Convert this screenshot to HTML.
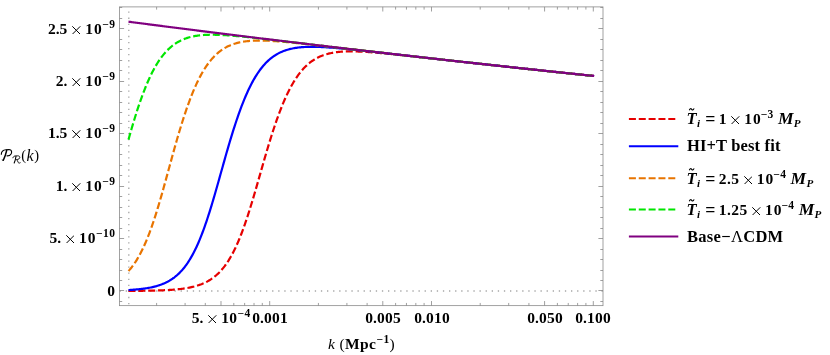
<!DOCTYPE html><html><head><meta charset="utf-8"><title>chart</title><style>
html,body{margin:0;padding:0;background:#fff;}
#c{position:relative;width:830px;height:355px;overflow:hidden;background:#fff;font-family:"Liberation Serif",serif;color:#000;}
.t{position:absolute;will-change:transform;white-space:nowrap;font-weight:bold;font-size:15.5px;line-height:16px;height:16px;}
.t sup{font-size:11.5px;line-height:0;position:relative;top:-6.2px;vertical-align:baseline;margin-left:0.4px;letter-spacing:0.5px;margin-right:-0.5px}
.t sub{font-size:10.5px;line-height:0;position:relative;top:2.6px;vertical-align:baseline;}
.yl{text-align:right;width:110px;left:5.0px;}
.xl{text-align:center;width:90px;}
.i{font-style:italic;}
.n{font-weight:normal;}
.ten{letter-spacing:1px;}
.x{display:inline-block;width:8.6px;height:8.6px;margin:0 4.6px 0 4.8px;vertical-align:baseline;position:relative;top:0.3px}
</style></head><body><div id="c">
<svg width="830" height="355" viewBox="0 0 830 355" style="position:absolute;left:0;top:0">
<g stroke="#a6a6a6" stroke-width="1.3" fill="none">
<line x1="119.60" y1="291.0" x2="603.00" y2="291.0" stroke-dasharray="1.3 4.8"/>
<line x1="128.8" y1="11.55" x2="128.8" y2="305.65" stroke-dasharray="1.3 4.77"/>
</g>
<path d="M128.50 290.91 L129.50 290.90 L130.50 290.89 L131.50 290.89 L132.50 290.88 L133.50 290.87 L134.50 290.87 L135.50 290.86 L136.50 290.85 L137.50 290.84 L138.50 290.83 L139.50 290.82 L140.50 290.81 L141.50 290.80 L142.50 290.78 L143.50 290.77 L144.50 290.76 L145.50 290.74 L146.50 290.73 L147.50 290.71 L148.50 290.69 L149.50 290.68 L150.50 290.66 L151.50 290.63 L152.50 290.61 L153.50 290.59 L154.50 290.56 L155.50 290.54 L156.50 290.51 L157.50 290.48 L158.50 290.45 L159.50 290.41 L160.50 290.38 L161.50 290.34 L162.50 290.30 L163.50 290.26 L164.50 290.21 L165.50 290.17 L166.50 290.11 L167.50 290.06 L168.50 290.00 L169.50 289.94 L170.50 289.88 L171.50 289.81 L172.50 289.74 L173.50 289.66 L174.50 289.58 L175.50 289.50 L176.50 289.41 L177.50 289.31 L178.50 289.21 L179.50 289.10 L180.50 288.99 L181.50 288.86 L182.50 288.73 L183.50 288.60 L184.50 288.45 L185.50 288.30 L186.50 288.14 L187.50 287.97 L188.50 287.78 L189.50 287.59 L190.50 287.39 L191.50 287.17 L192.50 286.94 L193.50 286.70 L194.50 286.44 L195.50 286.17 L196.50 285.88 L197.50 285.57 L198.50 285.25 L199.50 284.91 L200.50 284.55 L201.50 284.17 L202.50 283.76 L203.50 283.33 L204.50 282.88 L205.50 282.41 L206.50 281.90 L207.50 281.37 L208.50 280.81 L209.50 280.21 L210.50 279.58 L211.50 278.92 L212.50 278.22 L213.50 277.49 L214.50 276.71 L215.50 275.89 L216.50 275.03 L217.50 274.13 L218.50 273.17 L219.50 272.17 L220.50 271.11 L221.50 270.00 L222.50 268.84 L223.50 267.61 L224.50 266.33 L225.50 264.98 L226.50 263.57 L227.50 262.09 L228.50 260.55 L229.50 258.93 L230.50 257.24 L231.50 255.48 L232.50 253.64 L233.50 251.72 L234.50 249.73 L235.50 247.65 L236.50 245.50 L237.50 243.26 L238.50 240.94 L239.50 238.54 L240.50 236.06 L241.50 233.50 L242.50 230.86 L243.50 228.13 L244.50 225.33 L245.50 222.46 L246.50 219.51 L247.50 216.49 L248.50 213.40 L249.50 210.25 L250.50 207.04 L251.50 203.78 L252.50 200.47 L253.50 197.11 L254.50 193.71 L255.50 190.29 L256.50 186.83 L257.50 183.35 L258.50 179.86 L259.50 176.36 L260.50 172.85 L261.50 169.35 L262.50 165.86 L263.50 162.38 L264.50 158.93 L265.50 155.50 L266.50 152.10 L267.50 148.73 L268.50 145.41 L269.50 142.13 L270.50 138.90 L271.50 135.71 L272.50 132.59 L273.50 129.51 L274.50 126.50 L275.50 123.55 L276.50 120.67 L277.50 117.85 L278.50 115.09 L279.50 112.41 L280.50 109.79 L281.50 107.24 L282.50 104.77 L283.50 102.37 L284.50 100.03 L285.50 97.77 L286.50 95.59 L287.50 93.47 L288.50 91.42 L289.50 89.45 L290.50 87.54 L291.50 85.70 L292.50 83.93 L293.50 82.23 L294.50 80.60 L295.50 79.02 L296.50 77.52 L297.50 76.07 L298.50 74.68 L299.50 73.36 L300.50 72.09 L301.50 70.87 L302.50 69.71 L303.50 68.61 L304.50 67.55 L305.50 66.55 L306.50 65.59 L307.50 64.68 L308.50 63.81 L309.50 62.99 L310.50 62.21 L311.50 61.46 L312.50 60.76 L313.50 60.10 L314.50 59.47 L315.50 58.87 L316.50 58.31 L317.50 57.78 L318.50 57.28 L319.50 56.81 L320.50 56.36 L321.50 55.94 L322.50 55.55 L323.50 55.19 L324.50 54.84 L325.50 54.52 L326.50 54.22 L327.50 53.94 L328.50 53.68 L329.50 53.44 L330.50 53.21 L331.50 53.00 L332.50 52.81 L333.50 52.63 L334.50 52.47 L335.50 52.32 L336.50 52.19 L337.50 52.07 L338.50 51.96 L339.50 51.86 L340.50 51.77 L341.50 51.69 L342.50 51.62 L343.50 51.56 L344.50 51.51 L345.50 51.47 L346.50 51.44 L347.50 51.41 L348.50 51.39 L349.50 51.38 L350.50 51.37 L351.50 51.37 L352.50 51.38 L353.50 51.39 L354.50 51.41 L355.50 51.43 L356.50 51.46 L357.50 51.49 L358.50 51.53 L359.50 51.57 L360.50 51.61 L361.50 51.66 L362.50 51.71 L363.50 51.76 L364.50 51.82 L365.50 51.88 L366.50 51.94 L367.50 52.01 L368.50 52.08 L369.50 52.15 L370.50 52.22 L371.50 52.30 L372.50 52.37 L373.50 52.45 L374.50 52.53 L375.50 52.62 L376.50 52.70 L377.50 52.79 L378.50 52.87 L379.50 52.96 L380.50 53.05 L381.50 53.14 L382.50 53.24 L383.50 53.33 L384.50 53.43 L385.50 53.52 L386.50 53.62 L387.50 53.71 L388.50 53.81 L389.50 53.91 L390.50 54.01 L391.50 54.11 L392.50 54.21 L393.50 54.32 L394.50 54.42 L395.50 54.52 L396.50 54.63 L397.50 54.73 L398.50 54.83 L399.50 54.94 L400.50 55.04 L401.50 55.15 L402.50 55.26 L403.50 55.36 L404.50 55.47 L405.50 55.58 L406.50 55.68 L407.50 55.79 L408.50 55.90 L409.50 56.01 L410.50 56.12 L411.50 56.23 L412.50 56.33 L413.50 56.44 L414.50 56.55 L415.50 56.66 L416.50 56.77 L417.50 56.88 L418.50 56.99 L419.50 57.10 L420.50 57.21 L421.50 57.32 L422.50 57.43 L423.50 57.54 L424.50 57.65 L425.50 57.76 L426.50 57.87 L427.50 57.98 L428.50 58.10 L429.50 58.21 L430.50 58.32 L431.50 58.43 L432.50 58.54 L433.50 58.65 L434.50 58.76 L435.50 58.87 L436.50 58.98 L437.50 59.09 L438.50 59.20 L439.50 59.31 L440.50 59.43 L441.50 59.54 L442.50 59.65 L443.50 59.76 L444.50 59.87 L445.50 59.98 L446.50 60.09 L447.50 60.20 L448.50 60.31 L449.50 60.42 L450.50 60.53 L451.50 60.65 L452.50 60.76 L453.50 60.87 L454.50 60.98 L455.50 61.09 L456.50 61.20 L457.50 61.31 L458.50 61.42 L459.50 61.53 L460.50 61.64 L461.50 61.75 L462.50 61.86 L463.50 61.97 L464.50 62.08 L465.50 62.19 L466.50 62.30 L467.50 62.41 L468.50 62.52 L469.50 62.63 L470.50 62.74 L471.50 62.85 L472.50 62.97 L473.50 63.08 L474.50 63.19 L475.50 63.30 L476.50 63.40 L477.50 63.51 L478.50 63.62 L479.50 63.73 L480.50 63.84 L481.50 63.95 L482.50 64.06 L483.50 64.17 L484.50 64.28 L485.50 64.39 L486.50 64.50 L487.50 64.61 L488.50 64.72 L489.50 64.83 L490.50 64.94 L491.50 65.05 L492.50 65.16 L493.50 65.27 L494.50 65.38 L495.50 65.48 L496.50 65.59 L497.50 65.70 L498.50 65.81 L499.50 65.92 L500.50 66.03 L501.50 66.14 L502.50 66.25 L503.50 66.35 L504.50 66.46 L505.50 66.57 L506.50 66.68 L507.50 66.79 L508.50 66.90 L509.50 67.00 L510.50 67.11 L511.50 67.22 L512.50 67.33 L513.50 67.44 L514.50 67.55 L515.50 67.65 L516.50 67.76 L517.50 67.87 L518.50 67.98 L519.50 68.08 L520.50 68.19 L521.50 68.30 L522.50 68.41 L523.50 68.52 L524.50 68.62 L525.50 68.73 L526.50 68.84 L527.50 68.95 L528.50 69.05 L529.50 69.16 L530.50 69.27 L531.50 69.37 L532.50 69.48 L533.50 69.59 L534.50 69.70 L535.50 69.80 L536.50 69.91 L537.50 70.02 L538.50 70.12 L539.50 70.23 L540.50 70.34 L541.50 70.44 L542.50 70.55 L543.50 70.66 L544.50 70.76 L545.50 70.87 L546.50 70.98 L547.50 71.08 L548.50 71.19 L549.50 71.29 L550.50 71.40 L551.50 71.51 L552.50 71.61 L553.50 71.72 L554.50 71.82 L555.50 71.93 L556.50 72.04 L557.50 72.14 L558.50 72.25 L559.50 72.35 L560.50 72.46 L561.50 72.56 L562.50 72.67 L563.50 72.78 L564.50 72.88 L565.50 72.99 L566.50 73.09 L567.50 73.20 L568.50 73.30 L569.50 73.41 L570.50 73.51 L571.50 73.62 L572.50 73.72 L573.50 73.83 L574.50 73.93 L575.50 74.04 L576.50 74.14 L577.50 74.25 L578.50 74.35 L579.50 74.46 L580.50 74.56 L581.50 74.67 L582.50 74.77 L583.50 74.88 L584.50 74.98 L585.50 75.08 L586.50 75.19 L587.50 75.29 L588.50 75.40 L589.50 75.50 L590.50 75.61 L591.50 75.71 L592.50 75.81 L593.50 75.92 L594.10 75.98" fill="none" stroke="#e60000" stroke-width="2.2" stroke-dasharray="7 2.85" stroke-linejoin="round"/>
<path d="M128.50 290.05 L129.50 289.99 L130.50 289.93 L131.50 289.86 L132.50 289.79 L133.50 289.72 L134.50 289.64 L135.50 289.56 L136.50 289.47 L137.50 289.38 L138.50 289.28 L139.50 289.18 L140.50 289.07 L141.50 288.95 L142.50 288.83 L143.50 288.70 L144.50 288.56 L145.50 288.41 L146.50 288.26 L147.50 288.09 L148.50 287.91 L149.50 287.73 L150.50 287.53 L151.50 287.33 L152.50 287.10 L153.50 286.87 L154.50 286.62 L155.50 286.36 L156.50 286.09 L157.50 285.79 L158.50 285.48 L159.50 285.15 L160.50 284.81 L161.50 284.44 L162.50 284.05 L163.50 283.64 L164.50 283.21 L165.50 282.75 L166.50 282.26 L167.50 281.75 L168.50 281.21 L169.50 280.64 L170.50 280.03 L171.50 279.39 L172.50 278.72 L173.50 278.01 L174.50 277.26 L175.50 276.47 L176.50 275.64 L177.50 274.77 L178.50 273.84 L179.50 272.87 L180.50 271.85 L181.50 270.78 L182.50 269.65 L183.50 268.46 L184.50 267.22 L185.50 265.91 L186.50 264.54 L187.50 263.11 L188.50 261.60 L189.50 260.03 L190.50 258.39 L191.50 256.67 L192.50 254.88 L193.50 253.01 L194.50 251.06 L195.50 249.03 L196.50 246.92 L197.50 244.72 L198.50 242.45 L199.50 240.09 L200.50 237.65 L201.50 235.12 L202.50 232.51 L203.50 229.82 L204.50 227.05 L205.50 224.20 L206.50 221.27 L207.50 218.27 L208.50 215.20 L209.50 212.05 L210.50 208.85 L211.50 205.58 L212.50 202.26 L213.50 198.88 L214.50 195.46 L215.50 192.00 L216.50 188.51 L217.50 184.99 L218.50 181.45 L219.50 177.89 L220.50 174.32 L221.50 170.75 L222.50 167.18 L223.50 163.62 L224.50 160.08 L225.50 156.56 L226.50 153.06 L227.50 149.59 L228.50 146.16 L229.50 142.78 L230.50 139.43 L231.50 136.13 L232.50 132.89 L233.50 129.70 L234.50 126.57 L235.50 123.50 L236.50 120.49 L237.50 117.54 L238.50 114.67 L239.50 111.86 L240.50 109.12 L241.50 106.45 L242.50 103.85 L243.50 101.33 L244.50 98.88 L245.50 96.50 L246.50 94.19 L247.50 91.96 L248.50 89.80 L249.50 87.71 L250.50 85.69 L251.50 83.75 L252.50 81.87 L253.50 80.07 L254.50 78.33 L255.50 76.66 L256.50 75.06 L257.50 73.52 L258.50 72.04 L259.50 70.62 L260.50 69.27 L261.50 67.97 L262.50 66.74 L263.50 65.55 L264.50 64.42 L265.50 63.34 L266.50 62.32 L267.50 61.34 L268.50 60.41 L269.50 59.53 L270.50 58.68 L271.50 57.89 L272.50 57.13 L273.50 56.41 L274.50 55.73 L275.50 55.09 L276.50 54.48 L277.50 53.91 L278.50 53.36 L279.50 52.85 L280.50 52.37 L281.50 51.92 L282.50 51.49 L283.50 51.09 L284.50 50.72 L285.50 50.36 L286.50 50.04 L287.50 49.73 L288.50 49.44 L289.50 49.18 L290.50 48.93 L291.50 48.70 L292.50 48.49 L293.50 48.29 L294.50 48.11 L295.50 47.94 L296.50 47.79 L297.50 47.65 L298.50 47.53 L299.50 47.41 L300.50 47.31 L301.50 47.22 L302.50 47.14 L303.50 47.07 L304.50 47.01 L305.50 46.96 L306.50 46.92 L307.50 46.88 L308.50 46.86 L309.50 46.84 L310.50 46.82 L311.50 46.82 L312.50 46.82 L313.50 46.82 L314.50 46.84 L315.50 46.85 L316.50 46.88 L317.50 46.90 L318.50 46.94 L319.50 46.97 L320.50 47.01 L321.50 47.06 L322.50 47.11 L323.50 47.16 L324.50 47.21 L325.50 47.27 L326.50 47.33 L327.50 47.40 L328.50 47.46 L329.50 47.53 L330.50 47.60 L331.50 47.68 L332.50 47.76 L333.50 47.83 L334.50 47.91 L335.50 48.00 L336.50 48.08 L337.50 48.17 L338.50 48.25 L339.50 48.34 L340.50 48.43 L341.50 48.53 L342.50 48.62 L343.50 48.71 L344.50 48.81 L345.50 48.90 L346.50 49.00 L347.50 49.10 L348.50 49.20 L349.50 49.30 L350.50 49.40 L351.50 49.50 L352.50 49.60 L353.50 49.71 L354.50 49.81 L355.50 49.92 L356.50 50.02 L357.50 50.13 L358.50 50.23 L359.50 50.34 L360.50 50.45 L361.50 50.55 L362.50 50.66 L363.50 50.77 L364.50 50.88 L365.50 50.99 L366.50 51.10 L367.50 51.21 L368.50 51.32 L369.50 51.43 L370.50 51.54 L371.50 51.65 L372.50 51.76 L373.50 51.87 L374.50 51.98 L375.50 52.09 L376.50 52.20 L377.50 52.31 L378.50 52.43 L379.50 52.54 L380.50 52.65 L381.50 52.76 L382.50 52.87 L383.50 52.99 L384.50 53.10 L385.50 53.21 L386.50 53.32 L387.50 53.44 L388.50 53.55 L389.50 53.66 L390.50 53.78 L391.50 53.89 L392.50 54.00 L393.50 54.11 L394.50 54.23 L395.50 54.34 L396.50 54.45 L397.50 54.57 L398.50 54.68 L399.50 54.79 L400.50 54.90 L401.50 55.02 L402.50 55.13 L403.50 55.24 L404.50 55.36 L405.50 55.47 L406.50 55.58 L407.50 55.70 L408.50 55.81 L409.50 55.92 L410.50 56.04 L411.50 56.15 L412.50 56.26 L413.50 56.37 L414.50 56.49 L415.50 56.60 L416.50 56.71 L417.50 56.83 L418.50 56.94 L419.50 57.05 L420.50 57.16 L421.50 57.28 L422.50 57.39 L423.50 57.50 L424.50 57.61 L425.50 57.73 L426.50 57.84 L427.50 57.95 L428.50 58.06 L429.50 58.18 L430.50 58.29 L431.50 58.40 L432.50 58.51 L433.50 58.62 L434.50 58.74 L435.50 58.85 L436.50 58.96 L437.50 59.07 L438.50 59.19 L439.50 59.30 L440.50 59.41 L441.50 59.52 L442.50 59.63 L443.50 59.74 L444.50 59.86 L445.50 59.97 L446.50 60.08 L447.50 60.19 L448.50 60.30 L449.50 60.41 L450.50 60.52 L451.50 60.64 L452.50 60.75 L453.50 60.86 L454.50 60.97 L455.50 61.08 L456.50 61.19 L457.50 61.30 L458.50 61.41 L459.50 61.52 L460.50 61.64 L461.50 61.75 L462.50 61.86 L463.50 61.97 L464.50 62.08 L465.50 62.19 L466.50 62.30 L467.50 62.41 L468.50 62.52 L469.50 62.63 L470.50 62.74 L471.50 62.85 L472.50 62.96 L473.50 63.07 L474.50 63.18 L475.50 63.29 L476.50 63.40 L477.50 63.51 L478.50 63.62 L479.50 63.73 L480.50 63.84 L481.50 63.95 L482.50 64.06 L483.50 64.17 L484.50 64.28 L485.50 64.39 L486.50 64.50 L487.50 64.61 L488.50 64.72 L489.50 64.83 L490.50 64.94 L491.50 65.05 L492.50 65.16 L493.50 65.27 L494.50 65.37 L495.50 65.48 L496.50 65.59 L497.50 65.70 L498.50 65.81 L499.50 65.92 L500.50 66.03 L501.50 66.14 L502.50 66.25 L503.50 66.35 L504.50 66.46 L505.50 66.57 L506.50 66.68 L507.50 66.79 L508.50 66.90 L509.50 67.00 L510.50 67.11 L511.50 67.22 L512.50 67.33 L513.50 67.44 L514.50 67.55 L515.50 67.65 L516.50 67.76 L517.50 67.87 L518.50 67.98 L519.50 68.08 L520.50 68.19 L521.50 68.30 L522.50 68.41 L523.50 68.52 L524.50 68.62 L525.50 68.73 L526.50 68.84 L527.50 68.94 L528.50 69.05 L529.50 69.16 L530.50 69.27 L531.50 69.37 L532.50 69.48 L533.50 69.59 L534.50 69.70 L535.50 69.80 L536.50 69.91 L537.50 70.02 L538.50 70.12 L539.50 70.23 L540.50 70.34 L541.50 70.44 L542.50 70.55 L543.50 70.66 L544.50 70.76 L545.50 70.87 L546.50 70.98 L547.50 71.08 L548.50 71.19 L549.50 71.29 L550.50 71.40 L551.50 71.51 L552.50 71.61 L553.50 71.72 L554.50 71.82 L555.50 71.93 L556.50 72.04 L557.50 72.14 L558.50 72.25 L559.50 72.35 L560.50 72.46 L561.50 72.56 L562.50 72.67 L563.50 72.78 L564.50 72.88 L565.50 72.99 L566.50 73.09 L567.50 73.20 L568.50 73.30 L569.50 73.41 L570.50 73.51 L571.50 73.62 L572.50 73.72 L573.50 73.83 L574.50 73.93 L575.50 74.04 L576.50 74.14 L577.50 74.25 L578.50 74.35 L579.50 74.46 L580.50 74.56 L581.50 74.67 L582.50 74.77 L583.50 74.88 L584.50 74.98 L585.50 75.08 L586.50 75.19 L587.50 75.29 L588.50 75.40 L589.50 75.50 L590.50 75.61 L591.50 75.71 L592.50 75.81 L593.50 75.92 L594.10 75.98" fill="none" stroke="#0000ff" stroke-width="2.2" stroke-linejoin="round"/>
<path d="M128.50 270.99 L129.50 269.87 L130.50 268.69 L131.50 267.46 L132.50 266.16 L133.50 264.80 L134.50 263.37 L135.50 261.88 L136.50 260.31 L137.50 258.67 L138.50 256.96 L139.50 255.17 L140.50 253.31 L141.50 251.36 L142.50 249.33 L143.50 247.22 L144.50 245.03 L145.50 242.75 L146.50 240.39 L147.50 237.94 L148.50 235.41 L149.50 232.79 L150.50 230.08 L151.50 227.30 L152.50 224.43 L153.50 221.48 L154.50 218.45 L155.50 215.34 L156.50 212.16 L157.50 208.92 L158.50 205.61 L159.50 202.24 L160.50 198.81 L161.50 195.33 L162.50 191.81 L163.50 188.25 L164.50 184.66 L165.50 181.04 L166.50 177.40 L167.50 173.75 L168.50 170.08 L169.50 166.42 L170.50 162.77 L171.50 159.12 L172.50 155.49 L173.50 151.89 L174.50 148.31 L175.50 144.77 L176.50 141.27 L177.50 137.81 L178.50 134.39 L179.50 131.03 L180.50 127.72 L181.50 124.47 L182.50 121.28 L183.50 118.15 L184.50 115.08 L185.50 112.09 L186.50 109.16 L187.50 106.30 L188.50 103.52 L189.50 100.81 L190.50 98.17 L191.50 95.60 L192.50 93.11 L193.50 90.70 L194.50 88.36 L195.50 86.10 L196.50 83.90 L197.50 81.79 L198.50 79.75 L199.50 77.77 L200.50 75.88 L201.50 74.05 L202.50 72.29 L203.50 70.60 L204.50 68.98 L205.50 67.42 L206.50 65.93 L207.50 64.50 L208.50 63.13 L209.50 61.82 L210.50 60.57 L211.50 59.37 L212.50 58.23 L213.50 57.15 L214.50 56.11 L215.50 55.12 L216.50 54.19 L217.50 53.29 L218.50 52.45 L219.50 51.64 L220.50 50.88 L221.50 50.16 L222.50 49.47 L223.50 48.83 L224.50 48.22 L225.50 47.64 L226.50 47.09 L227.50 46.58 L228.50 46.09 L229.50 45.64 L230.50 45.21 L231.50 44.81 L232.50 44.43 L233.50 44.08 L234.50 43.75 L235.50 43.44 L236.50 43.16 L237.50 42.89 L238.50 42.64 L239.50 42.41 L240.50 42.20 L241.50 42.00 L242.50 41.82 L243.50 41.66 L244.50 41.51 L245.50 41.37 L246.50 41.25 L247.50 41.14 L248.50 41.04 L249.50 40.95 L250.50 40.87 L251.50 40.80 L252.50 40.74 L253.50 40.69 L254.50 40.65 L255.50 40.62 L256.50 40.59 L257.50 40.57 L258.50 40.56 L259.50 40.56 L260.50 40.56 L261.50 40.57 L262.50 40.58 L263.50 40.60 L264.50 40.63 L265.50 40.66 L266.50 40.69 L267.50 40.73 L268.50 40.77 L269.50 40.82 L270.50 40.87 L271.50 40.93 L272.50 40.98 L273.50 41.05 L274.50 41.11 L275.50 41.18 L276.50 41.25 L277.50 41.32 L278.50 41.39 L279.50 41.47 L280.50 41.55 L281.50 41.63 L282.50 41.71 L283.50 41.80 L284.50 41.89 L285.50 41.97 L286.50 42.06 L287.50 42.16 L288.50 42.25 L289.50 42.34 L290.50 42.44 L291.50 42.54 L292.50 42.63 L293.50 42.73 L294.50 42.83 L295.50 42.94 L296.50 43.04 L297.50 43.14 L298.50 43.24 L299.50 43.35 L300.50 43.45 L301.50 43.56 L302.50 43.67 L303.50 43.77 L304.50 43.88 L305.50 43.99 L306.50 44.10 L307.50 44.21 L308.50 44.32 L309.50 44.43 L310.50 44.54 L311.50 44.65 L312.50 44.76 L313.50 44.87 L314.50 44.99 L315.50 45.10 L316.50 45.21 L317.50 45.32 L318.50 45.44 L319.50 45.55 L320.50 45.67 L321.50 45.78 L322.50 45.89 L323.50 46.01 L324.50 46.12 L325.50 46.24 L326.50 46.35 L327.50 46.47 L328.50 46.58 L329.50 46.70 L330.50 46.81 L331.50 46.93 L332.50 47.04 L333.50 47.16 L334.50 47.27 L335.50 47.39 L336.50 47.50 L337.50 47.62 L338.50 47.74 L339.50 47.85 L340.50 47.97 L341.50 48.08 L342.50 48.20 L343.50 48.31 L344.50 48.43 L345.50 48.55 L346.50 48.66 L347.50 48.78 L348.50 48.89 L349.50 49.01 L350.50 49.13 L351.50 49.24 L352.50 49.36 L353.50 49.47 L354.50 49.59 L355.50 49.71 L356.50 49.82 L357.50 49.94 L358.50 50.05 L359.50 50.17 L360.50 50.28 L361.50 50.40 L362.50 50.52 L363.50 50.63 L364.50 50.75 L365.50 50.86 L366.50 50.98 L367.50 51.09 L368.50 51.21 L369.50 51.33 L370.50 51.44 L371.50 51.56 L372.50 51.67 L373.50 51.79 L374.50 51.90 L375.50 52.02 L376.50 52.13 L377.50 52.25 L378.50 52.36 L379.50 52.48 L380.50 52.59 L381.50 52.71 L382.50 52.82 L383.50 52.94 L384.50 53.05 L385.50 53.17 L386.50 53.28 L387.50 53.40 L388.50 53.51 L389.50 53.63 L390.50 53.74 L391.50 53.86 L392.50 53.97 L393.50 54.09 L394.50 54.20 L395.50 54.31 L396.50 54.43 L397.50 54.54 L398.50 54.66 L399.50 54.77 L400.50 54.89 L401.50 55.00 L402.50 55.11 L403.50 55.23 L404.50 55.34 L405.50 55.46 L406.50 55.57 L407.50 55.68 L408.50 55.80 L409.50 55.91 L410.50 56.02 L411.50 56.14 L412.50 56.25 L413.50 56.36 L414.50 56.48 L415.50 56.59 L416.50 56.70 L417.50 56.82 L418.50 56.93 L419.50 57.04 L420.50 57.16 L421.50 57.27 L422.50 57.38 L423.50 57.50 L424.50 57.61 L425.50 57.72 L426.50 57.83 L427.50 57.95 L428.50 58.06 L429.50 58.17 L430.50 58.28 L431.50 58.40 L432.50 58.51 L433.50 58.62 L434.50 58.73 L435.50 58.85 L436.50 58.96 L437.50 59.07 L438.50 59.18 L439.50 59.29 L440.50 59.41 L441.50 59.52 L442.50 59.63 L443.50 59.74 L444.50 59.85 L445.50 59.97 L446.50 60.08 L447.50 60.19 L448.50 60.30 L449.50 60.41 L450.50 60.52 L451.50 60.63 L452.50 60.75 L453.50 60.86 L454.50 60.97 L455.50 61.08 L456.50 61.19 L457.50 61.30 L458.50 61.41 L459.50 61.52 L460.50 61.63 L461.50 61.75 L462.50 61.86 L463.50 61.97 L464.50 62.08 L465.50 62.19 L466.50 62.30 L467.50 62.41 L468.50 62.52 L469.50 62.63 L470.50 62.74 L471.50 62.85 L472.50 62.96 L473.50 63.07 L474.50 63.18 L475.50 63.29 L476.50 63.40 L477.50 63.51 L478.50 63.62 L479.50 63.73 L480.50 63.84 L481.50 63.95 L482.50 64.06 L483.50 64.17 L484.50 64.28 L485.50 64.39 L486.50 64.50 L487.50 64.61 L488.50 64.72 L489.50 64.83 L490.50 64.94 L491.50 65.05 L492.50 65.16 L493.50 65.26 L494.50 65.37 L495.50 65.48 L496.50 65.59 L497.50 65.70 L498.50 65.81 L499.50 65.92 L500.50 66.03 L501.50 66.14 L502.50 66.24 L503.50 66.35 L504.50 66.46 L505.50 66.57 L506.50 66.68 L507.50 66.79 L508.50 66.90 L509.50 67.00 L510.50 67.11 L511.50 67.22 L512.50 67.33 L513.50 67.44 L514.50 67.54 L515.50 67.65 L516.50 67.76 L517.50 67.87 L518.50 67.98 L519.50 68.08 L520.50 68.19 L521.50 68.30 L522.50 68.41 L523.50 68.52 L524.50 68.62 L525.50 68.73 L526.50 68.84 L527.50 68.94 L528.50 69.05 L529.50 69.16 L530.50 69.27 L531.50 69.37 L532.50 69.48 L533.50 69.59 L534.50 69.70 L535.50 69.80 L536.50 69.91 L537.50 70.02 L538.50 70.12 L539.50 70.23 L540.50 70.34 L541.50 70.44 L542.50 70.55 L543.50 70.66 L544.50 70.76 L545.50 70.87 L546.50 70.98 L547.50 71.08 L548.50 71.19 L549.50 71.29 L550.50 71.40 L551.50 71.51 L552.50 71.61 L553.50 71.72 L554.50 71.82 L555.50 71.93 L556.50 72.04 L557.50 72.14 L558.50 72.25 L559.50 72.35 L560.50 72.46 L561.50 72.56 L562.50 72.67 L563.50 72.78 L564.50 72.88 L565.50 72.99 L566.50 73.09 L567.50 73.20 L568.50 73.30 L569.50 73.41 L570.50 73.51 L571.50 73.62 L572.50 73.72 L573.50 73.83 L574.50 73.93 L575.50 74.04 L576.50 74.14 L577.50 74.25 L578.50 74.35 L579.50 74.46 L580.50 74.56 L581.50 74.67 L582.50 74.77 L583.50 74.88 L584.50 74.98 L585.50 75.08 L586.50 75.19 L587.50 75.29 L588.50 75.40 L589.50 75.50 L590.50 75.61 L591.50 75.71 L592.50 75.81 L593.50 75.92 L594.10 75.98" fill="none" stroke="#e87400" stroke-width="2.2" stroke-dasharray="7 2.85" stroke-linejoin="round"/>
<path d="M128.50 139.58 L129.50 136.01 L130.50 132.49 L131.50 129.03 L132.50 125.61 L133.50 122.25 L134.50 118.96 L135.50 115.72 L136.50 112.56 L137.50 109.46 L138.50 106.42 L139.50 103.47 L140.50 100.58 L141.50 97.77 L142.50 95.03 L143.50 92.37 L144.50 89.78 L145.50 87.27 L146.50 84.84 L147.50 82.48 L148.50 80.20 L149.50 78.00 L150.50 75.87 L151.50 73.82 L152.50 71.84 L153.50 69.93 L154.50 68.10 L155.50 66.34 L156.50 64.64 L157.50 63.01 L158.50 61.45 L159.50 59.96 L160.50 58.53 L161.50 57.16 L162.50 55.85 L163.50 54.60 L164.50 53.40 L165.50 52.26 L166.50 51.18 L167.50 50.14 L168.50 49.16 L169.50 48.22 L170.50 47.33 L171.50 46.49 L172.50 45.69 L173.50 44.93 L174.50 44.21 L175.50 43.53 L176.50 42.88 L177.50 42.28 L178.50 41.70 L179.50 41.16 L180.50 40.65 L181.50 40.17 L182.50 39.72 L183.50 39.29 L184.50 38.89 L185.50 38.52 L186.50 38.17 L187.50 37.85 L188.50 37.54 L189.50 37.26 L190.50 37.00 L191.50 36.75 L192.50 36.53 L193.50 36.32 L194.50 36.13 L195.50 35.95 L196.50 35.79 L197.50 35.64 L198.50 35.51 L199.50 35.39 L200.50 35.28 L201.50 35.18 L202.50 35.10 L203.50 35.02 L204.50 34.96 L205.50 34.90 L206.50 34.85 L207.50 34.82 L208.50 34.79 L209.50 34.76 L210.50 34.75 L211.50 34.74 L212.50 34.74 L213.50 34.75 L214.50 34.76 L215.50 34.78 L216.50 34.80 L217.50 34.83 L218.50 34.86 L219.50 34.90 L220.50 34.94 L221.50 34.99 L222.50 35.04 L223.50 35.09 L224.50 35.15 L225.50 35.21 L226.50 35.27 L227.50 35.34 L228.50 35.41 L229.50 35.48 L230.50 35.56 L231.50 35.63 L232.50 35.71 L233.50 35.80 L234.50 35.88 L235.50 35.97 L236.50 36.05 L237.50 36.14 L238.50 36.23 L239.50 36.33 L240.50 36.42 L241.50 36.52 L242.50 36.62 L243.50 36.71 L244.50 36.81 L245.50 36.92 L246.50 37.02 L247.50 37.12 L248.50 37.22 L249.50 37.33 L250.50 37.44 L251.50 37.54 L252.50 37.65 L253.50 37.76 L254.50 37.87 L255.50 37.98 L256.50 38.09 L257.50 38.20 L258.50 38.31 L259.50 38.42 L260.50 38.53 L261.50 38.64 L262.50 38.76 L263.50 38.87 L264.50 38.99 L265.50 39.10 L266.50 39.21 L267.50 39.33 L268.50 39.44 L269.50 39.56 L270.50 39.68 L271.50 39.79 L272.50 39.91 L273.50 40.02 L274.50 40.14 L275.50 40.26 L276.50 40.37 L277.50 40.49 L278.50 40.61 L279.50 40.73 L280.50 40.84 L281.50 40.96 L282.50 41.08 L283.50 41.20 L284.50 41.32 L285.50 41.43 L286.50 41.55 L287.50 41.67 L288.50 41.79 L289.50 41.91 L290.50 42.02 L291.50 42.14 L292.50 42.26 L293.50 42.38 L294.50 42.50 L295.50 42.62 L296.50 42.74 L297.50 42.85 L298.50 42.97 L299.50 43.09 L300.50 43.21 L301.50 43.33 L302.50 43.45 L303.50 43.57 L304.50 43.69 L305.50 43.80 L306.50 43.92 L307.50 44.04 L308.50 44.16 L309.50 44.28 L310.50 44.40 L311.50 44.52 L312.50 44.63 L313.50 44.75 L314.50 44.87 L315.50 44.99 L316.50 45.11 L317.50 45.23 L318.50 45.34 L319.50 45.46 L320.50 45.58 L321.50 45.70 L322.50 45.82 L323.50 45.94 L324.50 46.05 L325.50 46.17 L326.50 46.29 L327.50 46.41 L328.50 46.53 L329.50 46.64 L330.50 46.76 L331.50 46.88 L332.50 47.00 L333.50 47.11 L334.50 47.23 L335.50 47.35 L336.50 47.47 L337.50 47.59 L338.50 47.70 L339.50 47.82 L340.50 47.94 L341.50 48.05 L342.50 48.17 L343.50 48.29 L344.50 48.41 L345.50 48.52 L346.50 48.64 L347.50 48.76 L348.50 48.88 L349.50 48.99 L350.50 49.11 L351.50 49.23 L352.50 49.34 L353.50 49.46 L354.50 49.58 L355.50 49.69 L356.50 49.81 L357.50 49.93 L358.50 50.04 L359.50 50.16 L360.50 50.27 L361.50 50.39 L362.50 50.51 L363.50 50.62 L364.50 50.74 L365.50 50.86 L366.50 50.97 L367.50 51.09 L368.50 51.20 L369.50 51.32 L370.50 51.44 L371.50 51.55 L372.50 51.67 L373.50 51.78 L374.50 51.90 L375.50 52.01 L376.50 52.13 L377.50 52.24 L378.50 52.36 L379.50 52.48 L380.50 52.59 L381.50 52.71 L382.50 52.82 L383.50 52.94 L384.50 53.05 L385.50 53.17 L386.50 53.28 L387.50 53.40 L388.50 53.51 L389.50 53.63 L390.50 53.74 L391.50 53.85 L392.50 53.97 L393.50 54.08 L394.50 54.20 L395.50 54.31 L396.50 54.43 L397.50 54.54 L398.50 54.66 L399.50 54.77 L400.50 54.88 L401.50 55.00 L402.50 55.11 L403.50 55.23 L404.50 55.34 L405.50 55.45 L406.50 55.57 L407.50 55.68 L408.50 55.80 L409.50 55.91 L410.50 56.02 L411.50 56.14 L412.50 56.25 L413.50 56.36 L414.50 56.48 L415.50 56.59 L416.50 56.70 L417.50 56.82 L418.50 56.93 L419.50 57.04 L420.50 57.16 L421.50 57.27 L422.50 57.38 L423.50 57.50 L424.50 57.61 L425.50 57.72 L426.50 57.83 L427.50 57.95 L428.50 58.06 L429.50 58.17 L430.50 58.28 L431.50 58.40 L432.50 58.51 L433.50 58.62 L434.50 58.73 L435.50 58.85 L436.50 58.96 L437.50 59.07 L438.50 59.18 L439.50 59.29 L440.50 59.41 L441.50 59.52 L442.50 59.63 L443.50 59.74 L444.50 59.85 L445.50 59.97 L446.50 60.08 L447.50 60.19 L448.50 60.30 L449.50 60.41 L450.50 60.52 L451.50 60.63 L452.50 60.75 L453.50 60.86 L454.50 60.97 L455.50 61.08 L456.50 61.19 L457.50 61.30 L458.50 61.41 L459.50 61.52 L460.50 61.63 L461.50 61.75 L462.50 61.86 L463.50 61.97 L464.50 62.08 L465.50 62.19 L466.50 62.30 L467.50 62.41 L468.50 62.52 L469.50 62.63 L470.50 62.74 L471.50 62.85 L472.50 62.96 L473.50 63.07 L474.50 63.18 L475.50 63.29 L476.50 63.40 L477.50 63.51 L478.50 63.62 L479.50 63.73 L480.50 63.84 L481.50 63.95 L482.50 64.06 L483.50 64.17 L484.50 64.28 L485.50 64.39 L486.50 64.50 L487.50 64.61 L488.50 64.72 L489.50 64.83 L490.50 64.94 L491.50 65.05 L492.50 65.16 L493.50 65.26 L494.50 65.37 L495.50 65.48 L496.50 65.59 L497.50 65.70 L498.50 65.81 L499.50 65.92 L500.50 66.03 L501.50 66.14 L502.50 66.24 L503.50 66.35 L504.50 66.46 L505.50 66.57 L506.50 66.68 L507.50 66.79 L508.50 66.90 L509.50 67.00 L510.50 67.11 L511.50 67.22 L512.50 67.33 L513.50 67.44 L514.50 67.54 L515.50 67.65 L516.50 67.76 L517.50 67.87 L518.50 67.98 L519.50 68.08 L520.50 68.19 L521.50 68.30 L522.50 68.41 L523.50 68.52 L524.50 68.62 L525.50 68.73 L526.50 68.84 L527.50 68.94 L528.50 69.05 L529.50 69.16 L530.50 69.27 L531.50 69.37 L532.50 69.48 L533.50 69.59 L534.50 69.70 L535.50 69.80 L536.50 69.91 L537.50 70.02 L538.50 70.12 L539.50 70.23 L540.50 70.34 L541.50 70.44 L542.50 70.55 L543.50 70.66 L544.50 70.76 L545.50 70.87 L546.50 70.98 L547.50 71.08 L548.50 71.19 L549.50 71.29 L550.50 71.40 L551.50 71.51 L552.50 71.61 L553.50 71.72 L554.50 71.82 L555.50 71.93 L556.50 72.04 L557.50 72.14 L558.50 72.25 L559.50 72.35 L560.50 72.46 L561.50 72.56 L562.50 72.67 L563.50 72.78 L564.50 72.88 L565.50 72.99 L566.50 73.09 L567.50 73.20 L568.50 73.30 L569.50 73.41 L570.50 73.51 L571.50 73.62 L572.50 73.72 L573.50 73.83 L574.50 73.93 L575.50 74.04 L576.50 74.14 L577.50 74.25 L578.50 74.35 L579.50 74.46 L580.50 74.56 L581.50 74.67 L582.50 74.77 L583.50 74.88 L584.50 74.98 L585.50 75.08 L586.50 75.19 L587.50 75.29 L588.50 75.40 L589.50 75.50 L590.50 75.61 L591.50 75.71 L592.50 75.81 L593.50 75.92 L594.10 75.98" fill="none" stroke="#00e600" stroke-width="2.2" stroke-dasharray="7 2.85" stroke-linejoin="round"/>
<path d="M128.50 21.70 L129.50 21.83 L130.50 21.96 L131.50 22.09 L132.50 22.22 L133.50 22.35 L134.50 22.48 L135.50 22.61 L136.50 22.74 L137.50 22.87 L138.50 23.00 L139.50 23.13 L140.50 23.26 L141.50 23.39 L142.50 23.52 L143.50 23.65 L144.50 23.78 L145.50 23.90 L146.50 24.03 L147.50 24.16 L148.50 24.29 L149.50 24.42 L150.50 24.55 L151.50 24.68 L152.50 24.81 L153.50 24.94 L154.50 25.06 L155.50 25.19 L156.50 25.32 L157.50 25.45 L158.50 25.58 L159.50 25.71 L160.50 25.83 L161.50 25.96 L162.50 26.09 L163.50 26.22 L164.50 26.35 L165.50 26.47 L166.50 26.60 L167.50 26.73 L168.50 26.86 L169.50 26.99 L170.50 27.11 L171.50 27.24 L172.50 27.37 L173.50 27.50 L174.50 27.62 L175.50 27.75 L176.50 27.88 L177.50 28.01 L178.50 28.13 L179.50 28.26 L180.50 28.39 L181.50 28.51 L182.50 28.64 L183.50 28.77 L184.50 28.89 L185.50 29.02 L186.50 29.15 L187.50 29.27 L188.50 29.40 L189.50 29.53 L190.50 29.65 L191.50 29.78 L192.50 29.91 L193.50 30.03 L194.50 30.16 L195.50 30.28 L196.50 30.41 L197.50 30.54 L198.50 30.66 L199.50 30.79 L200.50 30.91 L201.50 31.04 L202.50 31.16 L203.50 31.29 L204.50 31.42 L205.50 31.54 L206.50 31.67 L207.50 31.79 L208.50 31.92 L209.50 32.04 L210.50 32.17 L211.50 32.29 L212.50 32.42 L213.50 32.54 L214.50 32.67 L215.50 32.79 L216.50 32.92 L217.50 33.04 L218.50 33.17 L219.50 33.29 L220.50 33.42 L221.50 33.54 L222.50 33.67 L223.50 33.79 L224.50 33.91 L225.50 34.04 L226.50 34.16 L227.50 34.29 L228.50 34.41 L229.50 34.53 L230.50 34.66 L231.50 34.78 L232.50 34.91 L233.50 35.03 L234.50 35.15 L235.50 35.28 L236.50 35.40 L237.50 35.52 L238.50 35.65 L239.50 35.77 L240.50 35.89 L241.50 36.02 L242.50 36.14 L243.50 36.26 L244.50 36.39 L245.50 36.51 L246.50 36.63 L247.50 36.76 L248.50 36.88 L249.50 37.00 L250.50 37.13 L251.50 37.25 L252.50 37.37 L253.50 37.49 L254.50 37.62 L255.50 37.74 L256.50 37.86 L257.50 37.98 L258.50 38.11 L259.50 38.23 L260.50 38.35 L261.50 38.47 L262.50 38.59 L263.50 38.72 L264.50 38.84 L265.50 38.96 L266.50 39.08 L267.50 39.20 L268.50 39.33 L269.50 39.45 L270.50 39.57 L271.50 39.69 L272.50 39.81 L273.50 39.93 L274.50 40.05 L275.50 40.18 L276.50 40.30 L277.50 40.42 L278.50 40.54 L279.50 40.66 L280.50 40.78 L281.50 40.90 L282.50 41.02 L283.50 41.14 L284.50 41.26 L285.50 41.39 L286.50 41.51 L287.50 41.63 L288.50 41.75 L289.50 41.87 L290.50 41.99 L291.50 42.11 L292.50 42.23 L293.50 42.35 L294.50 42.47 L295.50 42.59 L296.50 42.71 L297.50 42.83 L298.50 42.95 L299.50 43.07 L300.50 43.19 L301.50 43.31 L302.50 43.43 L303.50 43.55 L304.50 43.67 L305.50 43.79 L306.50 43.91 L307.50 44.03 L308.50 44.15 L309.50 44.26 L310.50 44.38 L311.50 44.50 L312.50 44.62 L313.50 44.74 L314.50 44.86 L315.50 44.98 L316.50 45.10 L317.50 45.22 L318.50 45.34 L319.50 45.45 L320.50 45.57 L321.50 45.69 L322.50 45.81 L323.50 45.93 L324.50 46.05 L325.50 46.17 L326.50 46.28 L327.50 46.40 L328.50 46.52 L329.50 46.64 L330.50 46.76 L331.50 46.88 L332.50 46.99 L333.50 47.11 L334.50 47.23 L335.50 47.35 L336.50 47.46 L337.50 47.58 L338.50 47.70 L339.50 47.82 L340.50 47.94 L341.50 48.05 L342.50 48.17 L343.50 48.29 L344.50 48.40 L345.50 48.52 L346.50 48.64 L347.50 48.76 L348.50 48.87 L349.50 48.99 L350.50 49.11 L351.50 49.22 L352.50 49.34 L353.50 49.46 L354.50 49.57 L355.50 49.69 L356.50 49.81 L357.50 49.92 L358.50 50.04 L359.50 50.16 L360.50 50.27 L361.50 50.39 L362.50 50.51 L363.50 50.62 L364.50 50.74 L365.50 50.86 L366.50 50.97 L367.50 51.09 L368.50 51.20 L369.50 51.32 L370.50 51.43 L371.50 51.55 L372.50 51.67 L373.50 51.78 L374.50 51.90 L375.50 52.01 L376.50 52.13 L377.50 52.24 L378.50 52.36 L379.50 52.48 L380.50 52.59 L381.50 52.71 L382.50 52.82 L383.50 52.94 L384.50 53.05 L385.50 53.17 L386.50 53.28 L387.50 53.40 L388.50 53.51 L389.50 53.63 L390.50 53.74 L391.50 53.85 L392.50 53.97 L393.50 54.08 L394.50 54.20 L395.50 54.31 L396.50 54.43 L397.50 54.54 L398.50 54.66 L399.50 54.77 L400.50 54.88 L401.50 55.00 L402.50 55.11 L403.50 55.23 L404.50 55.34 L405.50 55.45 L406.50 55.57 L407.50 55.68 L408.50 55.80 L409.50 55.91 L410.50 56.02 L411.50 56.14 L412.50 56.25 L413.50 56.36 L414.50 56.48 L415.50 56.59 L416.50 56.70 L417.50 56.82 L418.50 56.93 L419.50 57.04 L420.50 57.16 L421.50 57.27 L422.50 57.38 L423.50 57.50 L424.50 57.61 L425.50 57.72 L426.50 57.83 L427.50 57.95 L428.50 58.06 L429.50 58.17 L430.50 58.28 L431.50 58.40 L432.50 58.51 L433.50 58.62 L434.50 58.73 L435.50 58.85 L436.50 58.96 L437.50 59.07 L438.50 59.18 L439.50 59.29 L440.50 59.41 L441.50 59.52 L442.50 59.63 L443.50 59.74 L444.50 59.85 L445.50 59.97 L446.50 60.08 L447.50 60.19 L448.50 60.30 L449.50 60.41 L450.50 60.52 L451.50 60.63 L452.50 60.75 L453.50 60.86 L454.50 60.97 L455.50 61.08 L456.50 61.19 L457.50 61.30 L458.50 61.41 L459.50 61.52 L460.50 61.63 L461.50 61.75 L462.50 61.86 L463.50 61.97 L464.50 62.08 L465.50 62.19 L466.50 62.30 L467.50 62.41 L468.50 62.52 L469.50 62.63 L470.50 62.74 L471.50 62.85 L472.50 62.96 L473.50 63.07 L474.50 63.18 L475.50 63.29 L476.50 63.40 L477.50 63.51 L478.50 63.62 L479.50 63.73 L480.50 63.84 L481.50 63.95 L482.50 64.06 L483.50 64.17 L484.50 64.28 L485.50 64.39 L486.50 64.50 L487.50 64.61 L488.50 64.72 L489.50 64.83 L490.50 64.94 L491.50 65.05 L492.50 65.16 L493.50 65.26 L494.50 65.37 L495.50 65.48 L496.50 65.59 L497.50 65.70 L498.50 65.81 L499.50 65.92 L500.50 66.03 L501.50 66.14 L502.50 66.24 L503.50 66.35 L504.50 66.46 L505.50 66.57 L506.50 66.68 L507.50 66.79 L508.50 66.90 L509.50 67.00 L510.50 67.11 L511.50 67.22 L512.50 67.33 L513.50 67.44 L514.50 67.54 L515.50 67.65 L516.50 67.76 L517.50 67.87 L518.50 67.98 L519.50 68.08 L520.50 68.19 L521.50 68.30 L522.50 68.41 L523.50 68.52 L524.50 68.62 L525.50 68.73 L526.50 68.84 L527.50 68.94 L528.50 69.05 L529.50 69.16 L530.50 69.27 L531.50 69.37 L532.50 69.48 L533.50 69.59 L534.50 69.70 L535.50 69.80 L536.50 69.91 L537.50 70.02 L538.50 70.12 L539.50 70.23 L540.50 70.34 L541.50 70.44 L542.50 70.55 L543.50 70.66 L544.50 70.76 L545.50 70.87 L546.50 70.98 L547.50 71.08 L548.50 71.19 L549.50 71.29 L550.50 71.40 L551.50 71.51 L552.50 71.61 L553.50 71.72 L554.50 71.82 L555.50 71.93 L556.50 72.04 L557.50 72.14 L558.50 72.25 L559.50 72.35 L560.50 72.46 L561.50 72.56 L562.50 72.67 L563.50 72.78 L564.50 72.88 L565.50 72.99 L566.50 73.09 L567.50 73.20 L568.50 73.30 L569.50 73.41 L570.50 73.51 L571.50 73.62 L572.50 73.72 L573.50 73.83 L574.50 73.93 L575.50 74.04 L576.50 74.14 L577.50 74.25 L578.50 74.35 L579.50 74.46 L580.50 74.56 L581.50 74.67 L582.50 74.77 L583.50 74.88 L584.50 74.98 L585.50 75.08 L586.50 75.19 L587.50 75.29 L588.50 75.40 L589.50 75.50 L590.50 75.61 L591.50 75.71 L592.50 75.81 L593.50 75.92 L594.10 75.98" fill="none" stroke="#800080" stroke-width="2.2" stroke-linejoin="round"/>
<rect x="119.50" y="6.90" width="483.50" height="298.75" fill="none" stroke="#8a8a8a" stroke-width="0.8"/>
<path d="M156.61 305.65 v-2.70 M156.61 6.90 v2.70 M185.10 305.65 v-2.70 M185.10 6.90 v2.70 M205.31 305.65 v-2.70 M205.31 6.90 v2.70 M220.99 305.65 v-4.60 M220.99 6.90 v4.60 M233.80 305.65 v-2.70 M233.80 6.90 v2.70 M244.64 305.65 v-2.70 M244.64 6.90 v2.70 M254.02 305.65 v-2.70 M254.02 6.90 v2.70 M262.30 305.65 v-2.70 M262.30 6.90 v2.70 M269.70 305.65 v-4.60 M269.70 6.90 v4.60 M318.41 305.65 v-2.70 M318.41 6.90 v2.70 M346.90 305.65 v-2.70 M346.90 6.90 v2.70 M367.11 305.65 v-2.70 M367.11 6.90 v2.70 M382.79 305.65 v-4.60 M382.79 6.90 v4.60 M395.60 305.65 v-2.70 M395.60 6.90 v2.70 M406.44 305.65 v-2.70 M406.44 6.90 v2.70 M415.82 305.65 v-2.70 M415.82 6.90 v2.70 M424.10 305.65 v-2.70 M424.10 6.90 v2.70 M431.50 305.65 v-4.60 M431.50 6.90 v4.60 M480.21 305.65 v-2.70 M480.21 6.90 v2.70 M508.70 305.65 v-2.70 M508.70 6.90 v2.70 M528.91 305.65 v-2.70 M528.91 6.90 v2.70 M544.59 305.65 v-4.60 M544.59 6.90 v4.60 M557.40 305.65 v-2.70 M557.40 6.90 v2.70 M568.24 305.65 v-2.70 M568.24 6.90 v2.70 M577.62 305.65 v-2.70 M577.62 6.90 v2.70 M585.90 305.65 v-2.70 M585.90 6.90 v2.70 M593.30 305.65 v-4.60 M593.30 6.90 v4.60 M119.50 301.50 h2.70 M603.00 301.50 h-2.70 M119.50 290.50 h4.60 M603.00 290.50 h-4.60 M119.50 280.50 h2.70 M603.00 280.50 h-2.70 M119.50 270.50 h2.70 M603.00 270.50 h-2.70 M119.50 259.50 h2.70 M603.00 259.50 h-2.70 M119.50 249.50 h2.70 M603.00 249.50 h-2.70 M119.50 238.50 h4.60 M603.00 238.50 h-4.60 M119.50 228.50 h2.70 M603.00 228.50 h-2.70 M119.50 217.50 h2.70 M603.00 217.50 h-2.70 M119.50 207.50 h2.70 M603.00 207.50 h-2.70 M119.50 196.50 h2.70 M603.00 196.50 h-2.70 M119.50 186.50 h4.60 M603.00 186.50 h-4.60 M119.50 175.50 h2.70 M603.00 175.50 h-2.70 M119.50 165.50 h2.70 M603.00 165.50 h-2.70 M119.50 154.50 h2.70 M603.00 154.50 h-2.70 M119.50 144.50 h2.70 M603.00 144.50 h-2.70 M119.50 133.50 h4.60 M603.00 133.50 h-4.60 M119.50 123.50 h2.70 M603.00 123.50 h-2.70 M119.50 112.50 h2.70 M603.00 112.50 h-2.70 M119.50 102.50 h2.70 M603.00 102.50 h-2.70 M119.50 91.50 h2.70 M603.00 91.50 h-2.70 M119.50 81.50 h4.60 M603.00 81.50 h-4.60 M119.50 70.50 h2.70 M603.00 70.50 h-2.70 M119.50 60.50 h2.70 M603.00 60.50 h-2.70 M119.50 49.50 h2.70 M603.00 49.50 h-2.70 M119.50 39.50 h2.70 M603.00 39.50 h-2.70 M119.50 28.50 h4.60 M603.00 28.50 h-4.60 M119.50 18.50 h2.70 M603.00 18.50 h-2.70 M119.50 7.50 h2.70 M603.00 7.50 h-2.70" fill="none" stroke="#888888" stroke-width="0.8"/>
<line x1="628.9" y1="119.0" x2="675.4" y2="119.0" stroke="#e60000" stroke-width="2.0" stroke-dasharray="7 2.85"/>
<line x1="628.9" y1="146.2" x2="678.3" y2="146.2" stroke="#0000ff" stroke-width="2.0"/>
<line x1="628.9" y1="178.3" x2="675.4" y2="178.3" stroke="#e87400" stroke-width="2.0" stroke-dasharray="7 2.85"/>
<line x1="628.9" y1="209.5" x2="675.4" y2="209.5" stroke="#00e600" stroke-width="2.0" stroke-dasharray="7 2.85"/>
<line x1="628.9" y1="236.6" x2="678.3" y2="236.6" stroke="#800080" stroke-width="2.0"/>
</svg>
<div class="t yl" style="top:20.5px">2.5<svg class="x" viewBox="0 0 8.6 8.6"><path d="M0.3 0.3L8.3 8.3M8.3 0.3L0.3 8.3" stroke="#000" stroke-width="1" fill="none"/></svg><span style="letter-spacing:1.0px">1</span>0<sup>−9</sup></div>
<div class="t yl" style="top:72.5px">2.<svg class="x" viewBox="0 0 8.6 8.6"><path d="M0.3 0.3L8.3 8.3M8.3 0.3L0.3 8.3" stroke="#000" stroke-width="1" fill="none"/></svg><span style="letter-spacing:1.0px">1</span>0<sup>−9</sup></div>
<div class="t yl" style="top:125.0px">1.5<svg class="x" viewBox="0 0 8.6 8.6"><path d="M0.3 0.3L8.3 8.3M8.3 0.3L0.3 8.3" stroke="#000" stroke-width="1" fill="none"/></svg><span style="letter-spacing:1.0px">1</span>0<sup>−9</sup></div>
<div class="t yl" style="top:177.5px">1.<svg class="x" viewBox="0 0 8.6 8.6"><path d="M0.3 0.3L8.3 8.3M8.3 0.3L0.3 8.3" stroke="#000" stroke-width="1" fill="none"/></svg><span style="letter-spacing:1.0px">1</span>0<sup>−9</sup></div>
<div class="t yl" style="top:230.0px">5.<svg class="x" viewBox="0 0 8.6 8.6"><path d="M0.3 0.3L8.3 8.3M8.3 0.3L0.3 8.3" stroke="#000" stroke-width="1" fill="none"/></svg><span style="letter-spacing:1.0px">1</span>0<sup>−10</sup></div>
<div class="t yl" style="top:282.5px">0</div>
<div class="t xl" style="left:175.7px;top:309.5px">5.<svg class="x" viewBox="0 0 8.6 8.6"><path d="M0.3 0.3L8.3 8.3M8.3 0.3L0.3 8.3" stroke="#000" stroke-width="1" fill="none"/></svg><span style="letter-spacing:0.2px">1</span>0<sup>−4</sup></div>
<div class="t xl" style="left:224.7px;top:309.5px"><span style="letter-spacing:0.15px">0.001</span></div>
<div class="t xl" style="left:337.8px;top:309.5px"><span style="letter-spacing:0.15px">0.005</span></div>
<div class="t xl" style="left:386.5px;top:309.5px"><span style="letter-spacing:0.15px">0.010</span></div>
<div class="t xl" style="left:499.6px;top:309.5px"><span style="letter-spacing:0.15px">0.050</span></div>
<div class="t xl" style="left:548.3px;top:309.5px"><span style="letter-spacing:0.15px">0.100</span></div>
<div class="t" style="left:327.8px;top:335.5px;letter-spacing:0.35px"><span class="n i">k</span><span class="n"> (</span>Mpc<sup>−1</sup><span class="n">)</span></div>
<svg style="position:absolute;left:0;top:142px;overflow:visible" width="42" height="26" viewBox="0 0 42 26"><g fill="none" stroke="#000" stroke-linecap="round" stroke-linejoin="round"><path stroke-width="1.15" d="M1.3 12.3 C1.4 9.6 3.4 8.0 6.0 7.8 C8.2 7.6 9.6 7.5 10.2 7.8 C11.6 8.4 12.0 10.2 11.2 11.7 C10.3 13.3 8.6 14.0 7.0 13.9"/><path stroke-width="1.5" d="M6.7 8.3 C6.0 11.5 4.8 15.0 3.3 18.2"/><path stroke-width="0.9" d="M3.3 18.2 C2.9 18.3 2.5 18.2 2.2 18.0"/><path stroke-width="0.9" d="M12.9 15.8 C13.2 14.4 14.4 13.9 15.8 13.9 C17.2 13.8 18.5 13.8 19.1 14.1 C20.0 14.6 20.0 15.8 19.3 16.6 C18.6 17.4 17.3 17.6 16.4 17.5 C17.4 18.1 17.8 19.6 18.3 20.6 C18.7 21.2 19.4 21.3 20.2 20.8"/><path stroke-width="1.1" d="M16.0 14.2 C15.7 16.5 15.1 18.8 14.2 21.0"/></g></svg>
<div class="t n" style="left:21.4px;top:147.6px;font-size:16px"><span style="display:inline-block;position:relative;top:-1.2px;transform:scale(0.9,0.9);transform-origin:50% 62%">(</span><span class="i" style="margin:0 0.6px 0 0.2px">k</span><span style="display:inline-block;position:relative;top:-1.2px;transform:scale(0.9,0.9);transform-origin:50% 62%">)</span></div>
<div class="t" style="left:687.2px;top:110.9px;letter-spacing:0px;font-size:15.5px"><span class="i" style="position:relative;display:inline-block;font-size:16.5px;line-height:0;margin-left:-0.6px">T<svg style="position:absolute;left:2.3px;top:-10.9px;overflow:visible" width="5.4" height="3" viewBox="0 0 5.4 3"><path d="M0.3 2.3 C1 0.2 2 0.4 2.7 1.3 C3.4 2.2 4.4 2.4 5.1 0.4" stroke="#000" stroke-width="1.1" fill="none"/></svg></span><sub class="i" style="margin-left:0.6px;font-size:11px">i</sub><span style="margin:0 3.6px 0 6.2px;display:inline-block;transform:scale(1.15,1.25);transform-origin:50% 62%">=</span><span style="letter-spacing:0.45px">1</span><svg class="x" style="margin:0 4.4px 0 4.3px" viewBox="0 0 8.6 8.6"><path d="M0.3 0.3L8.3 8.3M8.3 0.3L0.3 8.3" stroke="#000" stroke-width="1" fill="none"/></svg><span style="letter-spacing:1px">1</span>0<sup style="margin-left:0px;top:-5.6px;letter-spacing:0.3px">−3</sup><span class="i" style="margin-left:4.8px;letter-spacing:0.3px;font-size:17.5px;line-height:0">M<sub style="font-size:11px">P</sub></span></div>
<div class="t" style="left:687.2px;top:137.7px;letter-spacing:0.15px;font-size:16.5px">HI+T best fit</div>
<div class="t" style="left:687.2px;top:170.6px;letter-spacing:0px;font-size:15.5px"><span class="i" style="position:relative;display:inline-block;font-size:16.5px;line-height:0;margin-left:-0.6px">T<svg style="position:absolute;left:2.3px;top:-10.9px;overflow:visible" width="5.4" height="3" viewBox="0 0 5.4 3"><path d="M0.3 2.3 C1 0.2 2 0.4 2.7 1.3 C3.4 2.2 4.4 2.4 5.1 0.4" stroke="#000" stroke-width="1.1" fill="none"/></svg></span><sub class="i" style="margin-left:0.6px;font-size:11px">i</sub><span style="margin:0 3.6px 0 6.2px;display:inline-block;transform:scale(1.15,1.25);transform-origin:50% 62%">=</span><span style="letter-spacing:0.45px">2.5</span><svg class="x" style="margin:0 4.4px 0 4.3px" viewBox="0 0 8.6 8.6"><path d="M0.3 0.3L8.3 8.3M8.3 0.3L0.3 8.3" stroke="#000" stroke-width="1" fill="none"/></svg><span style="letter-spacing:1px">1</span>0<sup style="margin-left:0px;top:-5.6px;letter-spacing:0.3px">−4</sup><span class="i" style="margin-left:4.8px;letter-spacing:0.3px;font-size:17.5px;line-height:0">M<sub style="font-size:11px">P</sub></span></div>
<div class="t" style="left:687.2px;top:201.5px;letter-spacing:0px;font-size:15.5px"><span class="i" style="position:relative;display:inline-block;font-size:16.5px;line-height:0;margin-left:-0.6px">T<svg style="position:absolute;left:2.3px;top:-10.9px;overflow:visible" width="5.4" height="3" viewBox="0 0 5.4 3"><path d="M0.3 2.3 C1 0.2 2 0.4 2.7 1.3 C3.4 2.2 4.4 2.4 5.1 0.4" stroke="#000" stroke-width="1.1" fill="none"/></svg></span><sub class="i" style="margin-left:0.6px;font-size:11px">i</sub><span style="margin:0 3.6px 0 6.2px;display:inline-block;transform:scale(1.15,1.25);transform-origin:50% 62%">=</span><span style="letter-spacing:0.45px">1.25</span><svg class="x" style="margin:0 4.4px 0 4.3px" viewBox="0 0 8.6 8.6"><path d="M0.3 0.3L8.3 8.3M8.3 0.3L0.3 8.3" stroke="#000" stroke-width="1" fill="none"/></svg><span style="letter-spacing:1px">1</span>0<sup style="margin-left:0px;top:-5.6px;letter-spacing:0.3px">−4</sup><span class="i" style="margin-left:4.8px;letter-spacing:0.3px;font-size:17.5px;line-height:0">M<sub style="font-size:11px">P</sub></span></div>
<div class="t" style="left:687.2px;top:228.9px;letter-spacing:0.3px;font-size:16.5px">Base−<span class="n">Λ</span>CDM</div>
</div></body></html>
